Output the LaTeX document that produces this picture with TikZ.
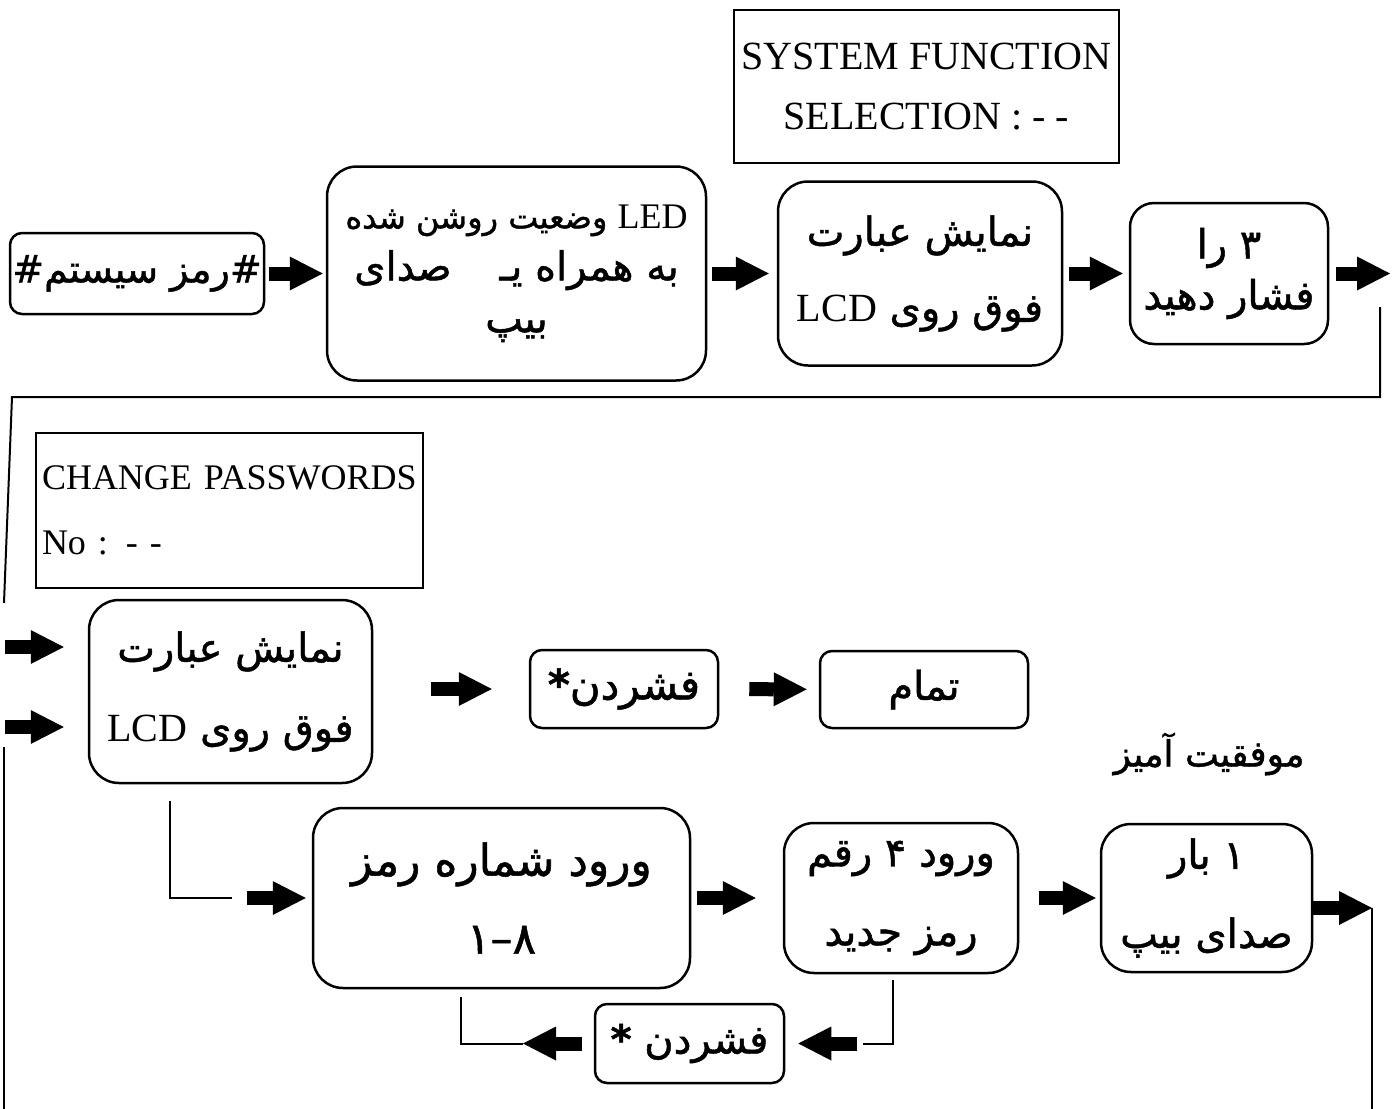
\documentclass[tikz,border=0pt]{standalone}
\usepackage{fontspec}
\setmainfont{Liberation Serif}
\newfontfamily\parsifont[Script=Arabic,FakeBold=1.2]{DejaVu Sans}
\TeXXeTstate=1
\usetikzlibrary{arrows.meta}
\newcommand{\fatxt}[1]{{\parsifont\beginR #1\endR}}

\begin{document}
\begin{tikzpicture}[x=0.5pt,y=-0.5pt,
    box/.style={draw,line width=1.25pt,rounded corners=15pt,inner sep=0pt,
        align=center,font=\fontsize{20}{38}\selectfont},
    smallbox/.style={box,rounded corners=6pt},
    lcdbox/.style={draw,line width=1.2pt,inner sep=0pt,font=\fontsize{20}{30}\selectfont},
    blk/.style={line width=7pt,-{Triangle[length=16.5pt,width=17pt,line width=0pt]}},
    link/.style={line width=1pt}]
    \useasboundingbox (0,0) rectangle (1399,1109);

    % LCD screens
    \node[lcdbox,minimum width=192.5pt,minimum height=76.5pt,align=center] (sysfn) at (926.5,86.5)
        {SYSTEM FUNCTION\\SELECTION : - -};
    \node[lcdbox,minimum width=193.5pt,minimum height=77.5pt,text width=187.5pt,inner xsep=3pt,
        align=left,font=\fontsize{18}{32.5}\selectfont] (chg) at (229.5,510.5)
        {CHANGE PASSWORDS\\No : - -};

    % first row
    \node[smallbox,minimum width=127pt,minimum height=40.5pt,font=\fontsize{19}{24}\selectfont] (pass) at (137,273.5)
        {\fatxt{\#رمز سیستم\#}};
    \node[box,minimum width=189.5pt,minimum height=107pt,font=\fontsize{20}{26}\selectfont] (led) at (516.5,273.5)
        {\fatxt{{\fontsize{16}{20}\selectfont{\normalfont\fontsize{18}{20}\selectfont LED} وضعیت روشن شده}}\\
         \fatxt{به همراه یـ\hspace{1.2em}صدای}\\\fatxt{بیپ}};
    \node[box,minimum width=142pt,minimum height=92pt] (show) at (920,273.5)
        {\fatxt{نمایش عبارت}\\\fatxt{فوق روی {\normalfont LCD}}};
    \node[box,rounded corners=12pt,minimum width=99pt,minimum height=70.5pt,
        font=\fontsize{20}{25.5}\selectfont] (three) at (1229,273.5)
        {\fatxt{۳ را}\\\fatxt{فشار دهید}};

    % second row
    \node[box,minimum width=141.5pt,minimum height=91.5pt,font=\fontsize{20}{40}\selectfont] (show2) at (230.5,691.5)
        {\fatxt{نمایش عبارت}\\\fatxt{فوق روی {\normalfont LCD}}};
    \node[smallbox,minimum width=94pt,minimum height=39pt,font=\fontsize{21}{24}\selectfont] (star) at (624,689)
        {\fatxt{فشردن{\bfseries*}}};
    \node[smallbox,minimum width=104pt,minimum height=38.5pt] (done) at (924,689.5) {\fatxt{تمام}};
    \node[font=\fontsize{18}{22}\selectfont] (ok) at (1209,754) {\fatxt{موفقیت آمیز}};

    % third row
    \node[box,minimum width=188.5pt,minimum height=90pt,font=\fontsize{22}{39}\selectfont] (num) at (501.5,898)
        {\fatxt{ورود شماره رمز}\\\fatxt{۸–۱}};
    \node[box,minimum width=117pt,minimum height=75pt,font=\fontsize{20}{39.5}\selectfont] (newpw) at (901,898)
        {\fatxt{ورود ۴ رقم}\\\fatxt{رمز جدید}};
    \node[box,minimum width=105.5pt,minimum height=74pt,font=\fontsize{20}{39.5}\selectfont] (beep) at (1206.5,898)
        {\fatxt{۱ بار}\\\fatxt{صدای بیپ}};
    \node[smallbox,minimum width=94.5pt,minimum height=39.5pt] (star2) at (689.5,1043.5)
        {\fatxt{فشردن {\bfseries*}}};

    \coordinate (e1) at (1390,273.5);
    \coordinate (r1) at (1380,307);
    \coordinate (r2) at (1380,397);
    \coordinate (l1) at (12,397);
    \coordinate (l2) at (4,603);
    \coordinate (in1) at (5,647);
    \coordinate (in2) at (5,727);
    \coordinate (l3) at (4,747);
    \coordinate (l4) at (4,1109);
    \coordinate (d1) at (170,801);
    \coordinate (d2) at (232,898);
    \coordinate (u1) at (893,980);
    \coordinate (u2) at (863,1043.5);
    \coordinate (v1) at (523,1043.5);
    \coordinate (v2) at (461,997);
    \coordinate (e2) at (1372,908);
    \coordinate (e3) at (1372,1109);

    \draw[blk,shorten <=2pt,shorten >=1.5pt] (pass) -- (led);
    \draw[blk,shorten <=2.5pt,shorten >=4pt] (led) -- (show);
    \draw[blk,shorten <=3pt,shorten >=3pt] (show) -- (three);
    \draw[blk,shorten <=3.5pt] (three) -- (e1);
    \draw[link] (r1) -- (r2) -- (l1) -- (l2);
    \draw[blk,shorten >=12pt] (in1) -- (in1 -| show2.west);
    \draw[blk,shorten >=12pt] (in2) -- (in2 -| show2.west);
    \draw[link] (l3) -- (l4);
    \draw[blk,shorten <=29pt,shorten >=18.5pt] (show2.east |- star) -- (star);
    \draw[blk,shorten <=15pt,shorten >=6pt] (star) -- (done);
    \draw[link] (d1) |- (d2);
    \draw[blk,shorten <=7.5pt,shorten >=3pt] (d2) -- (num);
    \draw[blk,shorten <=3pt,shorten >=13.5pt] (num) -- (newpw);
    \draw[blk,shorten <=10pt,shorten >=2pt] (newpw) -- (beep);
    \draw[blk] (beep.east |- e2) -- (e2);
    \draw[link] (e2) -- (e3);
    \draw[link] (u1) |- (u2);
    \draw[blk,shorten <=3pt,shorten >=6.5pt] (u2) -- (star2);
    \draw[blk,shorten <=6pt] (star2) -- (v1);
    \draw[link] (v1) -| (v2);
\end{tikzpicture}
\end{document}
